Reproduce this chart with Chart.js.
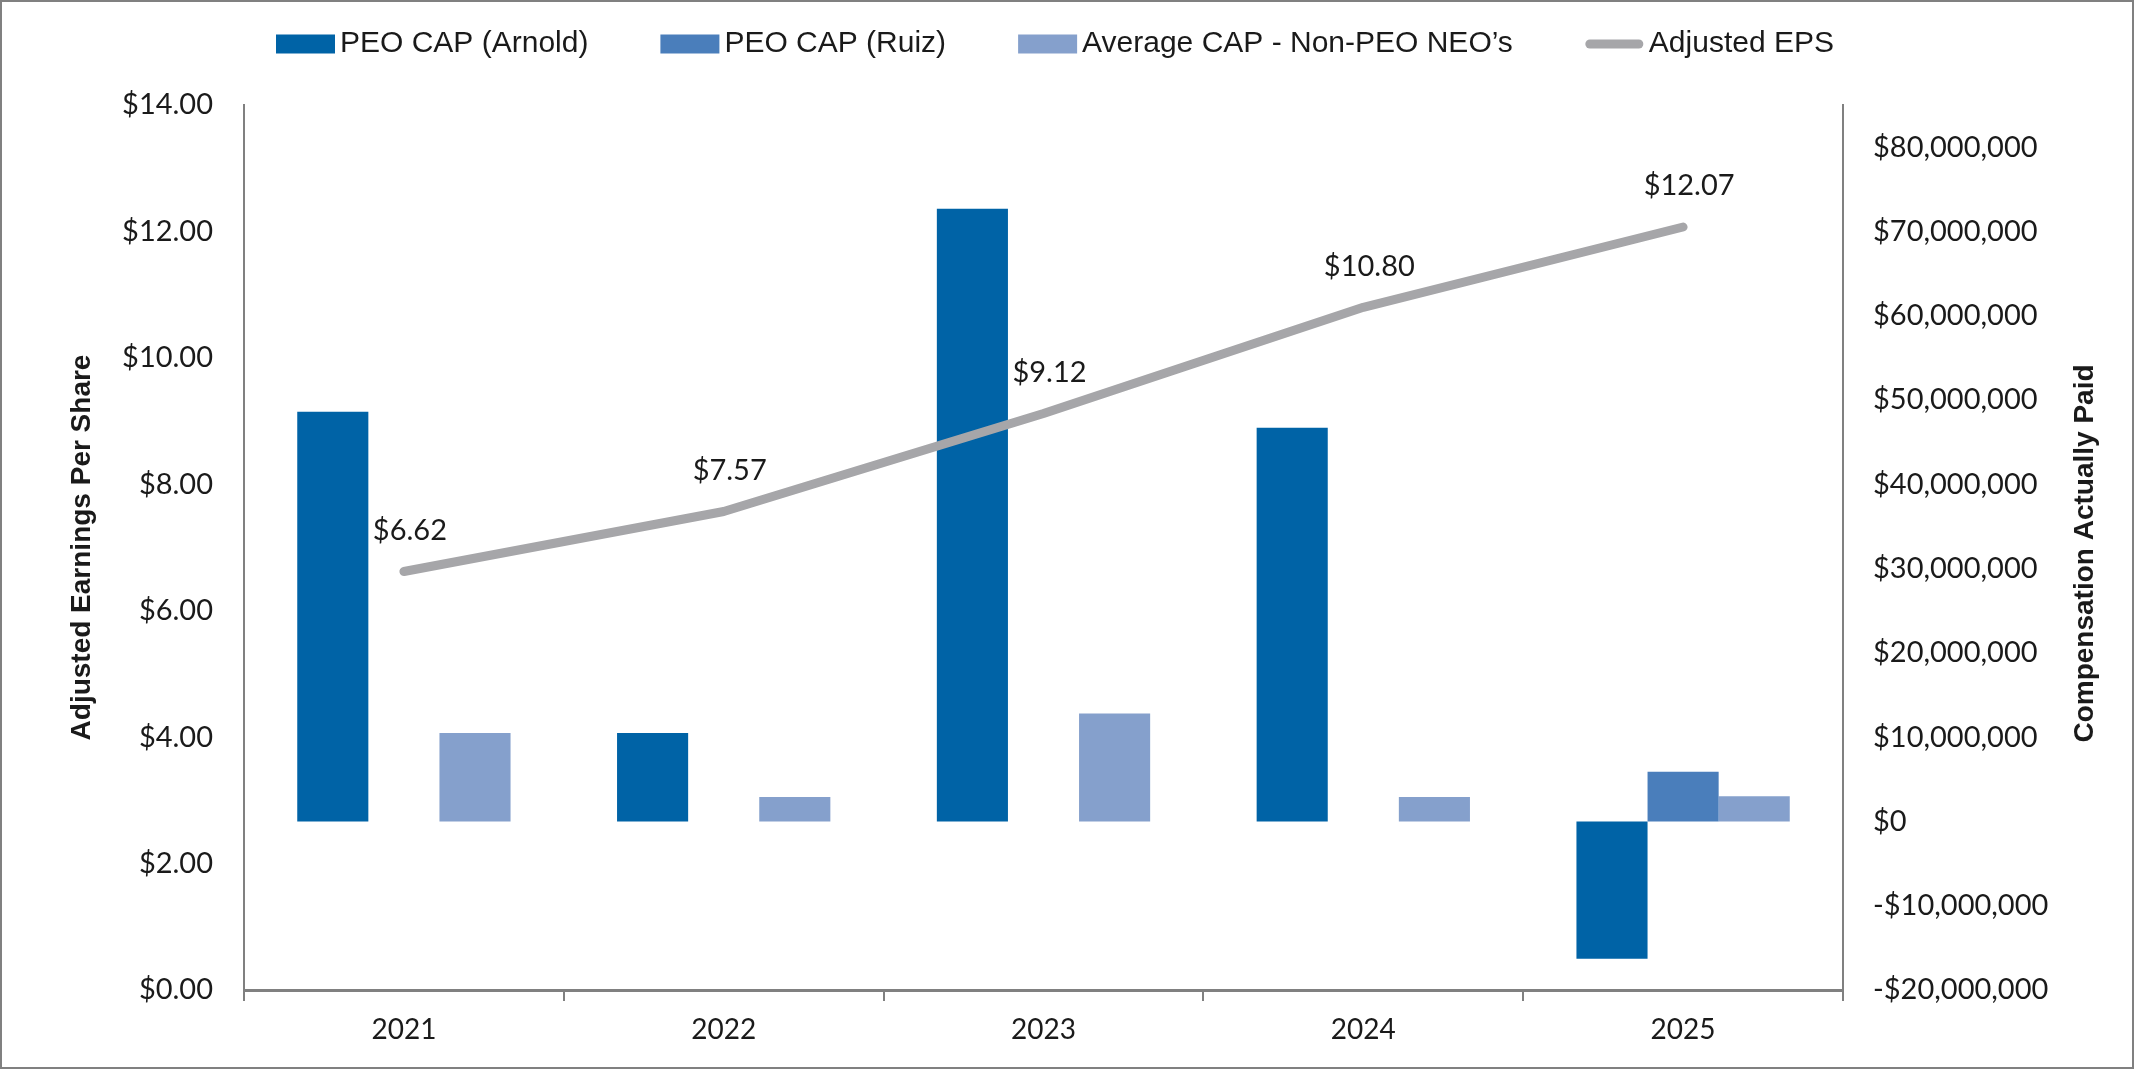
<!doctype html>
<html lang="en">
<head>
<meta charset="utf-8">
<title>Adjusted EPS vs Compensation Actually Paid</title>
<script src="https://cdn.jsdelivr.net/npm/chart.js@4.4.1/dist/chart.umd.min.js"></script>
<style>
  html, body { margin: 0; padding: 0; background: #fff; }
  #wrap { width: 2134px; height: 1069px; }
</style>
</head>
<body>
<div id="wrap"><canvas id="capChart" width="2134" height="1069"></canvas></div>
<script>
// values
var years = ['2021', '2022', '2023', '2024', '2025'];
var capArnold = [48.6e6, 10.5e6, 72.7e6, 46.7e6, -16.3e6];
var capRuiz = [null, null, null, null, 5.9e6];
var capNonPeo = [10.5e6, 2.9e6, 12.8e6, 2.9e6, 3.0e6];
var adjEps = [6.62, 7.57, 9.12, 10.80, 12.07];

var epsTicks = [0, 2, 4, 6, 8, 10, 12, 14];
var capTicks = [-20e6, -10e6, 0, 10e6, 20e6, 30e6, 40e6, 50e6, 60e6, 70e6, 80e6];
var capMax = 85e6;
var capTitle = 'Compensation Actually Paid';

var tickFont = { family: 'Lato, "Open Sans", sans-serif', size: 29 };
var titleFont = { family: '"Liberation Sans", Arial, sans-serif', size: 28, weight: 'bold' };
var axisGrey = '#808080';

function money(v) {
  var s = '$' + Math.abs(v).toLocaleString('en-US');
  return v < 0 ? '-' + s : s;
}

// legend across the top, drawn by hand
var topLegend = {
  id: 'topLegend',
  afterDraw: function(chart) {
    var ctx = chart.ctx;
    ctx.save();
    ctx.font = '30px "Liberation Sans", Arial, sans-serif';
    ctx.textBaseline = 'middle';
    ctx.textAlign = 'left';
    var x = 276, y = 44;
    chart.data.datasets.forEach(function(ds) {
      if (ds.type === 'line') {
        ctx.strokeStyle = ds.borderColor;
        ctx.lineWidth = 9;
        ctx.lineCap = 'round';
        ctx.beginPath();
        ctx.moveTo(x + 5, y);
        ctx.lineTo(x + 54, y);
        ctx.stroke();
      } else {
        ctx.fillStyle = ds.backgroundColor;
        ctx.fillRect(x, y - 9.5, 59, 19);
      }
      x += 64;
      ctx.fillStyle = '#1a1a1a';
      ctx.fillText(ds.label, x, y);
      x += ctx.measureText(ds.label).width + 72;
    });
    ctx.restore();
  }
};

// "$6.62" style labels over the EPS line, right axis title (reads upward), outer frame
var extras = {
  id: 'extras',
  afterDatasetsDraw: function(chart) {
    var ctx = chart.ctx;
    chart.data.datasets.forEach(function(ds, i) {
      if (ds.type !== 'line') return;
      var meta = chart.getDatasetMeta(i);
      ctx.save();
      ctx.font = '29px Lato, "Open Sans", sans-serif';
      ctx.fillStyle = '#1a1a1a';
      ctx.textAlign = 'center';
      ctx.textBaseline = 'middle';
      meta.data.forEach(function(pt, j) {
        ctx.fillText('$' + ds.data[j].toFixed(2), pt.x + 6, pt.y - 41);
      });
      ctx.restore();
    });
  },
  afterDraw: function(chart) {
    var ctx = chart.ctx;
    var area = chart.chartArea;
    ctx.save();
    ctx.translate(2085, (area.top + area.bottom) / 2 + 6);
    ctx.rotate(-Math.PI / 2);
    ctx.font = 'bold 28px "Liberation Sans", Arial, sans-serif';
    ctx.fillStyle = '#1a1a1a';
    ctx.textAlign = 'center';
    ctx.textBaseline = 'middle';
    ctx.fillText(capTitle, 0, 0);
    ctx.restore();

    ctx.save();
    ctx.strokeStyle = axisGrey;
    ctx.lineWidth = 2;
    ctx.strokeRect(1, 1, chart.width - 2, chart.height - 2);
    ctx.restore();
  }
};

new Chart(document.getElementById('capChart'), {
  data: {
    labels: years,
    datasets: [
      { type: 'bar', label: 'PEO CAP (Arnold)', data: capArnold, backgroundColor: '#0063A6', yAxisID: 'y1', order: 1 },
      { type: 'bar', label: 'PEO CAP (Ruiz)', data: capRuiz, backgroundColor: '#4A7EBB', yAxisID: 'y1', order: 1 },
      { type: 'bar', label: 'Average CAP - Non-PEO NEO\u2019s', data: capNonPeo, backgroundColor: '#85A0CC', yAxisID: 'y1', order: 1 },
      { type: 'line', label: 'Adjusted EPS', data: adjEps, borderColor: '#A6A6A9', borderWidth: 9,
        borderCapStyle: 'round', borderJoinStyle: 'round', pointRadius: 0, tension: 0, yAxisID: 'y', order: 0 }
    ]
  },
  options: {
    responsive: false,
    animation: false,
    devicePixelRatio: 1,
    layout: { padding: { top: 105, left: 0, right: 0, bottom: 0 } },
    datasets: { bar: { categoryPercentage: 0.667, barPercentage: 1.0 } },
    plugins: { legend: { display: false }, tooltip: { enabled: false } },
    scales: {
      x: {
        offset: true,
        grid: { display: true, offset: true, drawOnChartArea: false, drawTicks: true, tickLength: 11, color: axisGrey, lineWidth: 2 },
        border: { display: true, color: axisGrey, width: 3 },
        ticks: { font: { family: tickFont.family, size: 28 }, color: '#1a1a1a', padding: 12, maxRotation: 0 },
        afterFit: function(s) { s.height = 79; }
      },
      y: {
        position: 'left',
        min: epsTicks[0], max: epsTicks[epsTicks.length - 1],
        afterBuildTicks: function(s) { s.ticks = epsTicks.map(function(v) { return { value: v }; }); },
        grid: { display: false, drawTicks: false },
        border: { display: true, color: axisGrey, width: 2 },
        ticks: { font: tickFont, color: '#1a1a1a', padding: 31, callback: function(v) { return '$' + Number(v).toFixed(2); } },
        title: { display: true, text: 'Adjusted Earnings Per Share', font: titleFont, color: '#1a1a1a', padding: { top: 65, bottom: 0 } },
        afterFit: function(s) { s.width = 244; }
      },
      y1: {
        position: 'right',
        min: capTicks[0], max: capMax,
        afterBuildTicks: function(s) { s.ticks = capTicks.map(function(v) { return { value: v }; }); },
        grid: { display: false, drawTicks: false },
        border: { display: true, color: axisGrey, width: 2 },
        ticks: { font: tickFont, color: '#1a1a1a', padding: 30, callback: function(v) { return money(v); } },
        title: { display: false },
        afterFit: function(s) { s.width = 291; }
      }
    }
  },
  plugins: [topLegend, extras]
});
</script>
</body>
</html>
